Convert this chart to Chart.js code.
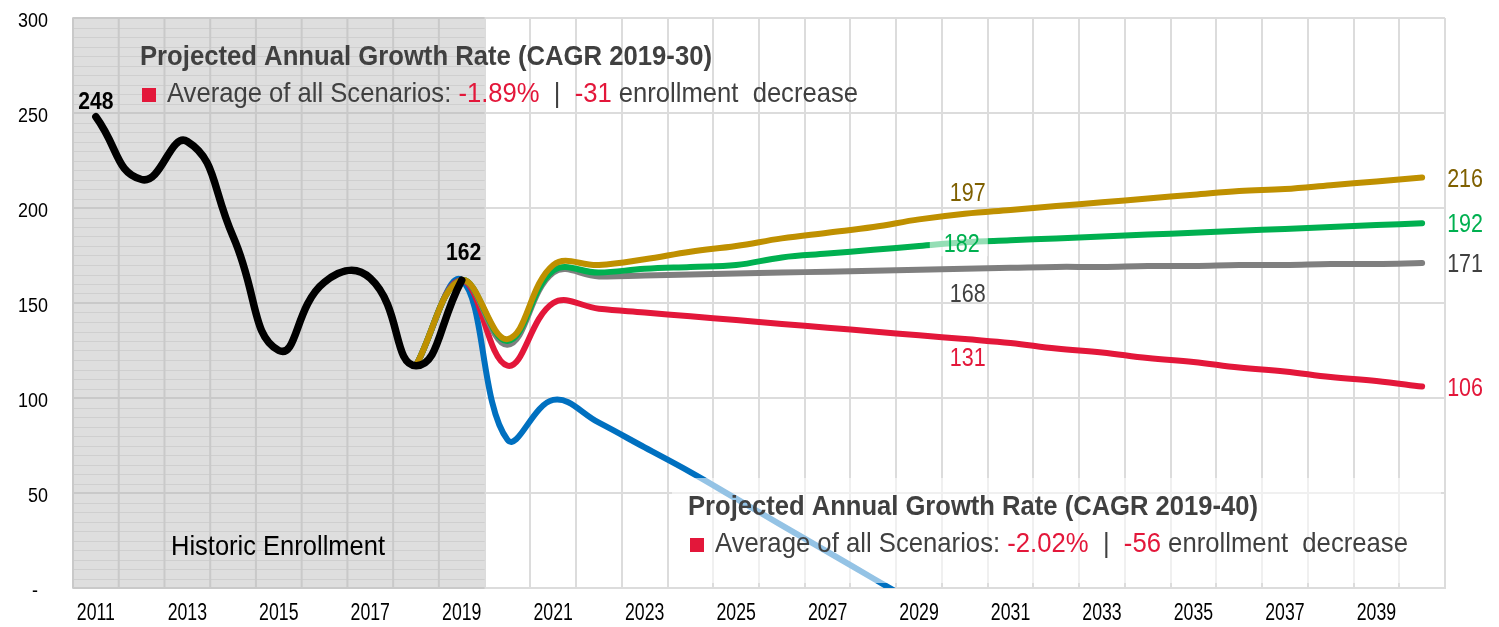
<!DOCTYPE html>
<html>
<head>
<meta charset="utf-8">
<title>Enrollment Projections</title>
<script src="https://cdn.jsdelivr.net/npm/chart.js@4.4.1/dist/chart.umd.min.js"></script>
<style>
  html, body { margin: 0; padding: 0; background: #ffffff; }
  #wrap { width: 1499px; height: 627px; position: relative; }
</style>
</head>
<body>
<div id="wrap"><canvas id="chart"></canvas></div>
<script>
// School years on the horizontal axis
const years = ['2011','2012','2013','2014','2015','2016','2017','2018','2019','2020',
               '2021','2022','2023','2024','2025','2026','2027','2028','2029','2030',
               '2031','2032','2033','2034','2035','2036','2037','2038','2039','2040'];

// Historic enrollment (2011-2019)
const historic = [248, 215, 235, 185, 125, 161, 163, 117, 162,
                  null, null, null, null, null, null, null, null, null, null, null,
                  null, null, null, null, null, null, null, null, null, null];

// Projection scenarios (joined to the last two historic years)
const scenarioHigh = [null, null, null, null, null, null, null, 117, 162,
                      131, 170, 170, 173, 177, 180, 184, 187, 190, 194, 197,
                      199, 201, 203, 205, 207, 209, 210, 212, 214, 216];
const scenarioUpper = [null, null, null, null, null, null, null, 117, 162,
                       130, 167, 166, 168, 169, 170, 174, 176, 178, 180, 182,
                       183, 184, 185, 186, 187, 188, 189, 190, 191, 192];
const scenarioMid = [null, null, null, null, null, null, null, 117, 162,
                     128, 166, 164, 164.5, 165, 165.5, 166, 166.5, 167, 167.5, 168,
                     168.5, 169, 169, 169.5, 169.5, 170, 170, 170.5, 170.5, 171];
const scenarioLower = [null, null, null, null, null, null, null, 117, 162,
                       117, 150, 147, 145, 143, 141, 139, 137, 135, 133, 131,
                       129, 126, 124, 121, 119, 116, 114, 111, 109, 106];
const scenarioLow = [null, null, null, null, null, null, null, 117, 162,
                     78, 99, 87, 74, 61, 47, 33, 19, 5, -9, -23,
                     -36, -49, -63, -76, -89, -102, -115, -129, -142, -155];

// Y axis
const yTicks = [0, 50, 100, 150, 200, 250, 300];

// Summary boxes
const summary2030 = { title: 'Projected Annual Growth Rate (CAGR 2019-30)', rate: '-1.89%', change: '-31' };
const summary2040 = { title: 'Projected Annual Growth Rate (CAGR 2019-40)', rate: '-2.02%', change: '-56' };

const RED = '#E3173A';
const TEXT_GREY = '#404040';
const FAMILY = "'Liberation Sans', Arial, sans-serif";

// condensed text: regular face squeezed horizontally by sx
function narrowText(ctx, text, x, y, o) {
  ctx.save();
  ctx.font = (o.weight || 'normal') + ' ' + o.size + 'px ' + FAMILY;
  ctx.fillStyle = o.color;
  ctx.textAlign = 'left';
  ctx.textBaseline = 'alphabetic';
  const w = ctx.measureText(text).width * o.sx;
  const x0 = o.align === 'center' ? x - w / 2 : o.align === 'right' ? x - w : x;
  ctx.translate(x0, y);
  ctx.scale(o.sx, 1);
  ctx.fillText(text, 0, 0);
  ctx.restore();
  return w;
}

// coloured runs squeezed to span a given width
function fittedRuns(ctx, runs, x, y, size, weight, width) {
  ctx.save();
  ctx.font = weight + ' ' + size + 'px ' + FAMILY;
  let natural = 0;
  for (const r of runs) natural += ctx.measureText(r.text).width;
  ctx.restore();
  const sx = width / natural;
  let cx = x;
  for (const r of runs) {
    cx += narrowText(ctx, r.text, cx, y, { size, weight, sx, color: r.color });
  }
}

function drawSummary(ctx, s, x, y, titleWidth, lineWidth) {
  fittedRuns(ctx, [{ text: s.title, color: TEXT_GREY }], x, y, 28, 'bold', titleWidth);
  const y2 = y + 37;
  ctx.fillStyle = RED;
  ctx.fillRect(x + 2, y2 - 14, 14, 14);
  fittedRuns(ctx, [
    { text: 'Average of all Scenarios: ', color: TEXT_GREY },
    { text: s.rate, color: RED },
    { text: '  |  ', color: TEXT_GREY },
    { text: s.change, color: RED },
    { text: ' enrollment  decrease', color: TEXT_GREY }
  ], x + 27, y2, 28, 'normal', lineWidth);
}

// shaded historic period with its finer grid
const historicShade = {
  id: 'historicShade',
  beforeDatasetsDraw(chart) {
    const { ctx, chartArea, scales } = chart;
    const xs = scales.x, ys = scales.y;
    const step = xs.getPixelForValue(1) - xs.getPixelForValue(0);
    const right = xs.getPixelForValue(years.indexOf('2019')) + step / 2;
    ctx.save();
    ctx.fillStyle = '#dedede';
    ctx.fillRect(chartArea.left, chartArea.top, right - chartArea.left, chartArea.bottom - chartArea.top);
    ctx.strokeStyle = '#cfcfcf';
    ctx.lineWidth = 1;
    for (let v = 5; v < 300; v += 5) {
      if (v % 50 === 0) continue;
      const py = Math.round(ys.getPixelForValue(v)) + 0.5;
      ctx.beginPath(); ctx.moveTo(chartArea.left, py); ctx.lineTo(right, py); ctx.stroke();
    }
    ctx.strokeStyle = '#c9c9c9';
    ctx.lineWidth = 2;
    for (const v of yTicks) {
      const py = ys.getPixelForValue(v);
      ctx.beginPath(); ctx.moveTo(chartArea.left, py); ctx.lineTo(right, py); ctx.stroke();
    }
    for (let i = 0; i <= years.indexOf('2019'); i++) {
      const px = xs.getPixelForValue(i) - step / 2;
      ctx.beginPath(); ctx.moveTo(px, chartArea.top); ctx.lineTo(px, chartArea.bottom); ctx.stroke();
    }
    ctx.restore();
  }
};

// condensed axis labels placed from the scales' own ticks
const axisLabels = {
  id: 'axisLabels',
  afterDraw(chart) {
    const { ctx, scales } = chart;
    const xs = scales.x, ys = scales.y;
    xs.ticks.forEach((t, i) => {
      if (!t.label) return;
      narrowText(ctx, t.label, xs.getPixelForTick(i), 620, { size: 23, sx: 0.77, color: '#000000', align: 'center' });
    });
    ys.ticks.forEach((t) => {
      narrowText(ctx, t.label, 48, ys.getPixelForValue(t.value) + 9, { size: 19.5, sx: 0.92, color: '#000000', align: 'right' });
    });
  }
};

// value labels, translucent text boxes and captions
const annotations = {
  id: 'annotations',
  afterDatasetsDraw(chart) {
    const { ctx, chartArea } = chart;
    const pt = (ds, yr) => chart.getDatasetMeta(ds).data[years.indexOf(yr)];
    ctx.save();

    // lower summary box (semi-transparent white fill)
    ctx.fillStyle = 'rgba(255,255,255,0.58)';
    ctx.fillRect(672, 478, chartArea.right - 4 - 672, 105);

    // box behind the 2030 label of the upper scenario
    const g30 = pt(2, '2030');
    ctx.fillRect(g30.x - 35, g30.y - 12, 58, 26);
    ctx.restore();

    // point labels
    const h11 = pt(0, '2011');
    narrowText(ctx, String(historic[0]), h11.x, h11.y - 8, { size: 24, weight: 'bold', sx: 0.88, color: '#000000', align: 'center' });
    const h19 = pt(0, '2019');
    narrowText(ctx, String(historic[8]), h19.x + 2, h19.y - 20, { size: 24, weight: 'bold', sx: 0.88, color: '#000000', align: 'center' });

    const lab = { size: 25, sx: 0.86, align: 'center' };
    const i30 = years.indexOf('2030');
    const gold30 = pt(1, '2030');
    narrowText(ctx, String(scenarioHigh[i30]), gold30.x + 3, gold30.y - 13, { ...lab, color: '#7F6000' });
    narrowText(ctx, String(scenarioUpper[i30]), g30.x - 3, g30.y + 10, { ...lab, color: '#00B050' });
    const m30 = pt(3, '2030');
    narrowText(ctx, String(scenarioMid[i30]), m30.x + 3, m30.y + 33, { ...lab, color: '#404040' });
    const r30 = pt(4, '2030');
    narrowText(ctx, String(scenarioLower[i30]), r30.x + 3, r30.y + 27, { ...lab, color: RED });

    // end-of-horizon labels
    const ends = [[1, scenarioHigh, '#7F6000'], [2, scenarioUpper, '#00B050'],
                  [3, scenarioMid, '#404040'], [4, scenarioLower, RED]];
    for (const [ds, arr, col] of ends) {
      const p = pt(ds, '2040');
      narrowText(ctx, String(arr[arr.length - 1]), p.x + 25, p.y + 9, { size: 25, sx: 0.86, color: col, align: 'left' });
    }

    // captions
    drawSummary(ctx, summary2030, 140, 65, 572, 691);
    drawSummary(ctx, summary2040, 688, 515, 570, 693);
    fittedRuns(ctx, [{ text: 'Historic Enrollment', color: '#000000' }], 171, 555, 28, 'normal', 214);
  }
};

const line = (data, color, width, tension) => ({
  data, borderColor: color, backgroundColor: color, borderWidth: width,
  pointRadius: 0, tension, fill: false, clip: 0,
  borderCapStyle: 'round', borderJoinStyle: 'round', spanGaps: false
});

new Chart(document.getElementById('chart'), {
  type: 'line',
  data: {
    labels: years,
    datasets: [
      line(historic, '#000000', 7.5, 0.5),
      line(scenarioHigh, '#BF9000', 6, 0.4),
      line(scenarioUpper, '#00B050', 6, 0.4),
      line(scenarioMid, '#7F7F7F', 6, 0.4),
      line(scenarioLower, RED, 6, 0.4),
      line(scenarioLow, '#0070C0', 6, 0.4)
    ]
  },
  options: {
    responsive: true,
    maintainAspectRatio: false,
    animation: false,
    layout: { padding: { top: 18, right: 54, left: 0, bottom: 0 } },
    plugins: { legend: { display: false }, tooltip: { enabled: false } },
    scales: {
      x: {
        offset: true,
        grid: { offset: true, color: '#dcdcdc', lineWidth: 2, drawTicks: false },
        border: { display: true, color: '#dcdcdc', width: 2 },
        ticks: {
          display: false, autoSkip: false,
          callback: (v, i) => (i % 2 === 0 ? years[i] : '')
        },
        afterFit: (s) => { s.height = 39; }
      },
      y: {
        min: 0, max: 300,
        afterBuildTicks: (s) => { s.ticks = yTicks.map(v => ({ value: v })); },
        grid: { color: '#dcdcdc', lineWidth: 2, drawTicks: false },
        border: { display: true, color: '#dcdcdc', width: 2 },
        ticks: {
          display: false,
          callback: (v) => (v === 0 ? '-  ' : String(v))
        },
        afterFit: (s) => { s.width = 73; }
      }
    }
  },
  plugins: [historicShade, annotations, axisLabels]
});
</script>
</body>
</html>
